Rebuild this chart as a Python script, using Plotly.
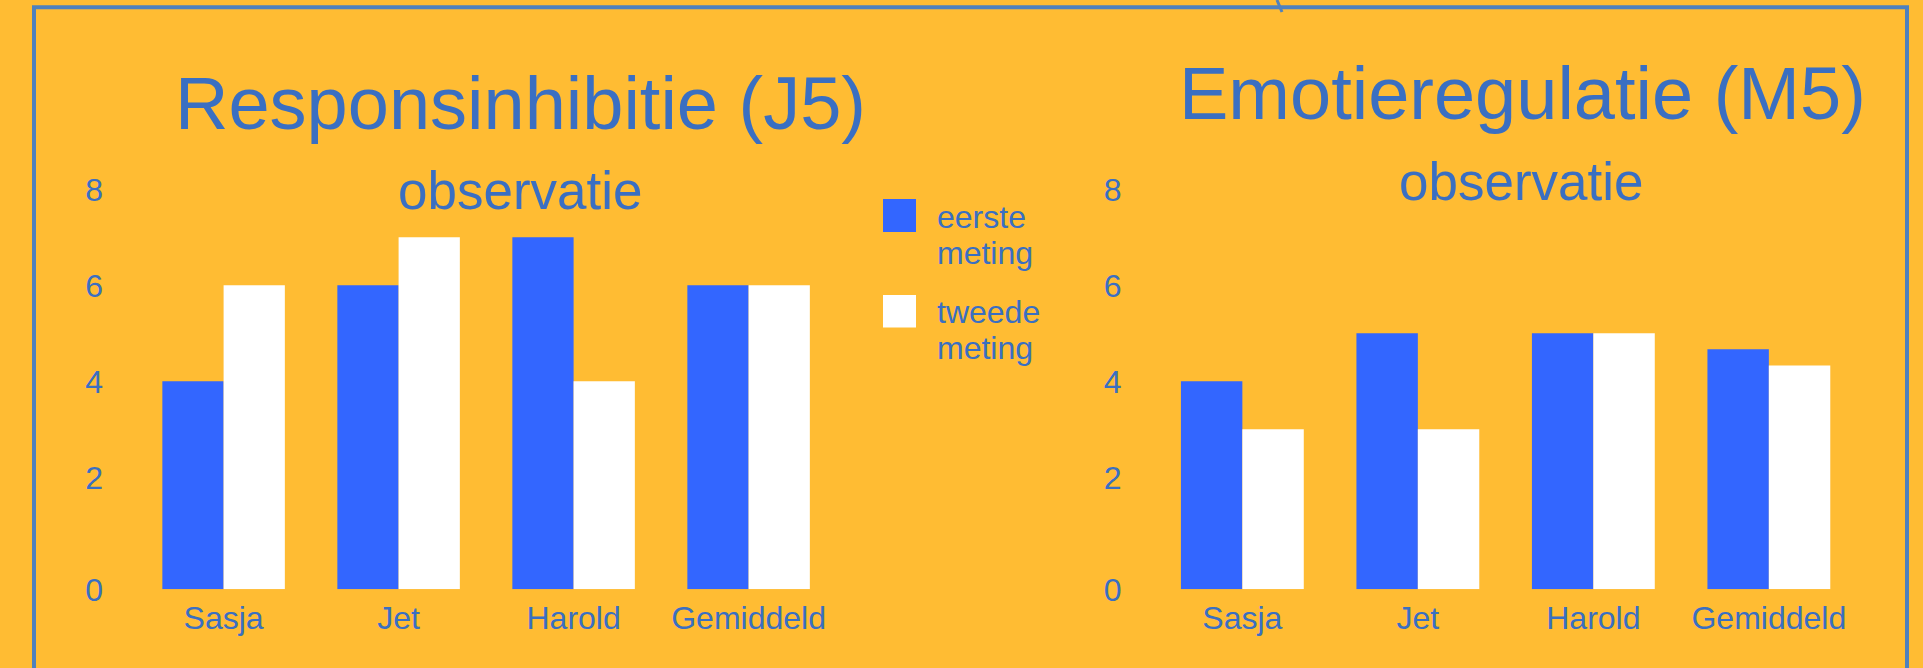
import plotly.graph_objects as go

# ---- data ----
categories = ["Sasja", "Jet", "Harold", "Gemiddeld"]
resp_eerste = [4, 6, 7, 6]
resp_tweede = [6, 7, 4, 6]
emo_eerste = [4, 5, 5, 4.67]
emo_tweede = [3, 3, 5, 4.33]
y_tick_labels = ["0", "2", "4", "6", "8"]
y_tick_values = [2, 4, 6, 8]
series_names = ["eerste meting", "tweede meting"]
titles = ["Responsinhibitie (J5)", "Emotieregulatie (M5)"]
subtitle = "observatie"

# ---- style ----
W, H = 1923, 668
BG = "#FFBC33"
BLUE = "#3366FF"
WHITE = "#FFFFFF"
TXT = "#3A6FC2"
BORDER = "#4F81BD"
FONT = "Liberation Sans, Arial, sans-serif"
BAR_BASE = -1 / 3          # the reference draws the bars from slightly below the linear zero
Y_RANGE = [BAR_BASE, 8]


def px(x):
    return x / W


def py(y):
    return 1 - y / H


fig = go.Figure()

panels = [
    ("x", "y", resp_eerste, resp_tweede),
    ("x2", "y2", emo_eerste, emo_tweede),
]
for xa, ya, first, second in panels:
    fig.add_trace(go.Bar(x=categories, y=[v - BAR_BASE for v in first], base=BAR_BASE,
                         name=series_names[0], marker=dict(color=BLUE, line=dict(width=0)),
                         xaxis=xa, yaxis=ya, showlegend=False,
                         customdata=first, hovertemplate="%{x}: %{customdata}<extra></extra>"))
    fig.add_trace(go.Bar(x=categories, y=[v - BAR_BASE for v in second], base=BAR_BASE,
                         name=series_names[1], marker=dict(color=WHITE, line=dict(width=0)),
                         xaxis=xa, yaxis=ya, showlegend=False,
                         customdata=second, hovertemplate="%{x}: %{customdata}<extra></extra>"))

y_dom = [py(589.3), py(189.3)]
xcommon = dict(showgrid=False, zeroline=False, showline=False, ticks="", automargin=False,
               tickfont=dict(family=FONT, size=32, color=TXT), ticklabelstandoff=7,
               fixedrange=True)
ycommon = dict(showgrid=False, zeroline=False, showline=False, ticks="", automargin=False,
               range=Y_RANGE, tickvals=[BAR_BASE] + y_tick_values, ticktext=y_tick_labels,
               tickfont=dict(family=FONT, size=32, color=TXT), ticklabelstandoff=32,
               fixedrange=True)

fig.update_layout(
    width=W, height=H,
    margin=dict(l=0, r=0, t=0, b=0, pad=0, autoexpand=False),
    paper_bgcolor=BG, plot_bgcolor=BG,
    barmode="group", bargap=0.3, bargroupgap=0,
    showlegend=False,
    xaxis=dict(domain=[px(136.1), px(836.1)], anchor="y", **xcommon),
    yaxis=dict(domain=y_dom, anchor="x", **ycommon),
    xaxis2=dict(domain=[px(1154.6), px(1856.6)], anchor="y2", **xcommon),
    yaxis2=dict(domain=y_dom, anchor="x2", **ycommon),
)

leg1 = series_names[0].split(" ")
leg2 = series_names[1].split(" ")
annotations = [
    dict(text=titles[0], x=px(520), y=py(103.5), font=dict(size=74)),
    dict(text=titles[1], x=px(1522), y=py(93.5), font=dict(size=74)),
    dict(text=subtitle, x=px(520.8), y=py(190.5), font=dict(size=53)),
    dict(text=subtitle, x=px(1521), y=py(181), font=dict(size=53)),
    dict(text=leg1[0], x=px(935), y=py(216.5), xanchor="left", font=dict(size=32)),
    dict(text=leg1[1], x=px(935), y=py(253), xanchor="left", font=dict(size=32)),
    dict(text=leg2[0], x=px(935), y=py(311.5), xanchor="left", font=dict(size=32)),
    dict(text=leg2[1], x=px(935), y=py(348), xanchor="left", font=dict(size=32)),
]
for a in annotations:
    a.setdefault("xanchor", "center")
    a.update(xref="paper", yref="paper", yanchor="middle", showarrow=False)
    a["font"].update(family=FONT, color=TXT)
fig.update_layout(annotations=annotations)

shapes = [
    # outer frame (open at the bottom)
    dict(type="rect", x0=px(34), x1=px(1907), y0=py(7.3), y1=py(720),
         line=dict(color=BORDER, width=4), fillcolor="rgba(0,0,0,0)", layer="below"),
    # small connector stroke at the top
    dict(type="line", x0=px(1277), x1=px(1282), y0=py(0), y1=py(12),
         line=dict(color=BORDER, width=3)),
    # legend swatches
    dict(type="rect", x0=px(883), x1=px(916), y0=py(199), y1=py(232),
         fillcolor=BLUE, line=dict(width=0)),
    dict(type="rect", x0=px(883), x1=px(916), y0=py(295), y1=py(327.5),
         fillcolor=WHITE, line=dict(width=0)),
]
for s in shapes:
    s.update(xref="paper", yref="paper")
fig.update_layout(shapes=shapes)

fig.write_html("out.html", config={"displayModeBar": False},
               post_script="document.body.style.margin='0';document.body.style.overflow='hidden';")
